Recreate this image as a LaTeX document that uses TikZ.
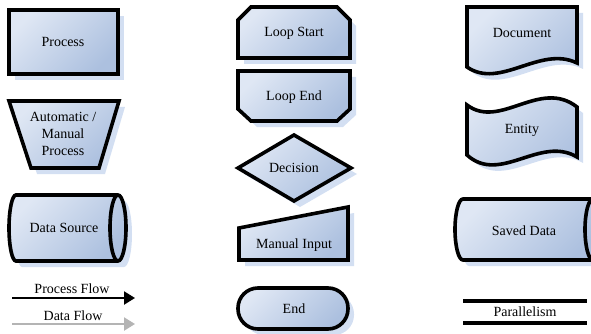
\documentclass[tikz,border=0pt]{standalone}
\usepackage{fontspec}
\setmainfont{Liberation Serif}
\usetikzlibrary{arrows.meta}
\definecolor{boxlight}{HTML}{DFE7F4}
\definecolor{boxdark}{HTML}{ACC0DF}
\definecolor{shadowblue}{HTML}{D3DFF2}
\definecolor{flowgray}{HTML}{B4B4B4}
\tikzset{
  mainbox/.style={draw=black, line width=3.6pt, line join=miter,
    top color=boxlight, bottom color=boxdark, shading angle=45},
  shadowbox/.style={fill=shadowblue, shift={(6,6)}},
  label/.style={font=\fontsize{14}{17}\selectfont, align=center, inner sep=0pt},
  flowline/.style={line width=2.2pt, -{Triangle[length=11pt,width=13pt]}},
  thickline/.style={line width=3.6pt},
}
% draws a shape with its offset drop shadow behind it
\newcommand\shadowed[1]{\path[shadowbox] #1; \path[mainbox] #1;}
\begin{document}
\begin{tikzpicture}[x=1pt, y=-1pt]
\useasboundingbox (0,0) rectangle (591,334);

% ---- left column ----
\shadowed{(9,10) rectangle (118,74)}
\node[label] (process) at (63,42) {Process};

\shadowed{(9,101) -- (119,101) -- (99,168) -- (31,168) -- cycle}
\node[label] (manual) at (63,134) {Automatic /\\Manual\\Process};

\shadowed{(16,195) -- (118,195) arc[start angle=90, end angle=-90, x radius=8pt, y radius=33pt]
  -- (16,261) arc[start angle=270, end angle=90, x radius=7pt, y radius=33pt] -- cycle}
\draw[thickline] (118,195) arc[start angle=90, end angle=270, x radius=8pt, y radius=33pt];
\node[label] (datasource) at (64,228) {Data Source};

\coordinate (pfa) at (12,298);
\coordinate (pfb) at (135,298);
\draw[flowline, black] (pfa) -- (pfb);
\node[label] (pflabel) at (72,289) {Process Flow};

\coordinate (dfa) at (12,324);
\coordinate (dfb) at (135,324);
\draw[flowline, flowgray] (dfa) -- (dfb);
\node[label] (dflabel) at (73,316) {Data Flow};

% ---- middle column ----
\shadowed{(238,20) -- (251,7) -- (337,7) -- (350,20) -- (350,58) -- (238,58) -- cycle}
\node[label] (loopstart) at (294,33) {Loop Start};

\shadowed{(238,71) -- (350,71) -- (350,109) -- (337,121) -- (251,121) -- (238,109) -- cycle}
\node[label] (loopend) at (294,97) {Loop End};

\shadowed{(294,135) -- (351,168) -- (294,201) -- (238,168) -- cycle}
\node[label] (decision) at (294,168) {Decision};

\shadowed{(239,228) -- (348,207) -- (348,260) -- (239,260) -- cycle}
\node[label] (input) at (294,245) {Manual Input};

\shadowed{[rounded corners=20pt] (238,288) rectangle (348,329)}
\node[label] (end) at (294,309) {End};

% ---- right column ----
\shadowed{(467,67) -- (467,7) -- (577,7) -- (577,63)
  .. controls (540,45) and (500,90) .. (467,67) -- cycle}
\node[label] (document) at (522,33) {Document};

\shadowed{(467,105) .. controls (500,130) and (540,78) .. (577,107)
  -- (577,157) .. controls (540,135) and (500,185) .. (467,155) -- cycle}
\node[label] (entity) at (522,130) {Entity};

\shadowed{(463,199) -- (593,199) arc[start angle=90, end angle=-90, x radius=8pt, y radius=30.5pt]
  -- (463,260) arc[start angle=270, end angle=90, x radius=8pt, y radius=30.5pt] -- cycle}
\draw[thickline] (593,199) arc[start angle=90, end angle=270, x radius=8pt, y radius=30.5pt];
\node[label] (saved) at (524,231) {Saved Data};

\coordinate (pa1) at (463,301);
\coordinate (pa2) at (587,301);
\coordinate (pb1) at (463,323);
\coordinate (pb2) at (587,323);
\draw[thickline] (pa1) -- (pa2);
\draw[thickline] (pb1) -- (pb2);
\node[label] (parallel) at (525,312) {Parallelism};
\end{tikzpicture}
\end{document}
